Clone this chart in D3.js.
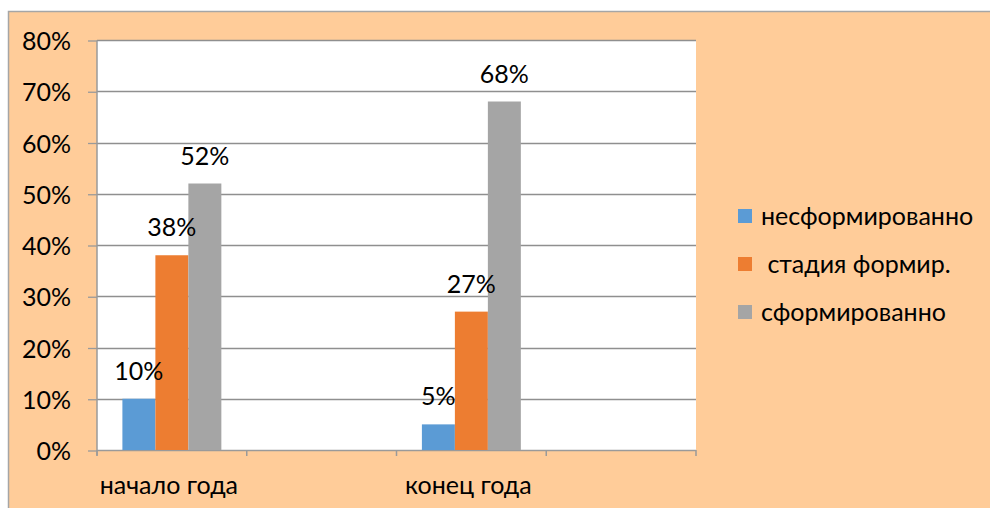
<!DOCTYPE html>
<html>
<head>
<meta charset="utf-8">
<script src="https://cdn.jsdelivr.net/npm/d3@7"></script>
<style>
  body { margin: 0; background: #fff; }
  text { font-family: Lato, "Open Sans", sans-serif; fill: #000; }
</style>
</head>
<body>
<div id="chart"></div>
<script>
// data
var categories = ["начало года", "", "конец года", ""];
var seriesNames = ["несформированно", " стадия формир.", "сформированно"];
var seriesColors = ["#5b9bd5", "#ed7d31", "#a5a5a5"];
var unformed = [0.10, null, 0.05, null];
var forming = [0.38, null, 0.27, null];
var formed = [0.52, null, 0.68, null];
var yTicks = [0, 0.1, 0.2, 0.3, 0.4, 0.5, 0.6, 0.7, 0.8];

var seriesValues = [unformed, forming, formed];

var svg = d3.select("#chart")
            .append("svg")
            .attr("width", 990)
            .attr("height", 508);

var plot = {left: 97, right: 696, top: 40, bottom: 450};
var fontSize = "25px";

// chart area background
svg.append("rect")
   .attr("x", 8.5).attr("y", 11.5)
   .attr("width", 1000).attr("height", 520)
   .style("fill", "#ffcc99")
   .style("stroke", "#a6a6a6")
   .style("stroke-width", 1.5);

svg.append("rect")
   .attr("x", plot.left).attr("y", plot.top)
   .attr("width", plot.right - plot.left)
   .attr("height", plot.bottom - plot.top)
   .style("fill", "#fff");

var y = d3.scaleLinear().domain([0, 0.8]).range([plot.bottom, plot.top]);
var x0 = d3.scaleBand().domain(d3.range(categories.length))
           .range([plot.left, plot.right]).padding(0);
var x1 = d3.scaleBand().domain(d3.range(seriesNames.length))
           .range([0, x0.bandwidth()]).paddingInner(0).paddingOuter(0.77);

// gridlines
svg.append("g")
   .selectAll("line")
   .data(yTicks.slice(1))
   .enter()
   .append("line")
   .attr("x1", plot.left).attr("x2", plot.right)
   .attr("y1", function(d) { return Math.round(y(d)) + 0.5; })
   .attr("y2", function(d) { return Math.round(y(d)) + 0.5; })
   .style("stroke", "#8f8f8f")
   .style("stroke-width", 1.3);

// y axis
var yAxis = d3.axisLeft(y)
              .tickValues(yTicks)
              .tickFormat(d3.format(".0%"))
              .tickSize(9)
              .tickPadding(17);
var gy = svg.append("g")
            .attr("transform", "translate(" + plot.left + ",0.5)")
            .call(yAxis);
gy.select(".domain").remove();
gy.selectAll(".tick line").style("stroke", "#9a9a9a").style("stroke-width", 1.3);
gy.selectAll(".tick text").style("font-size", fontSize).attr("dy", "0.36em");
gy.append("line")
  .attr("x1", 0).attr("x2", 0)
  .attr("y1", plot.top).attr("y2", plot.bottom + 5)
  .style("stroke", "#9a9a9a").style("stroke-width", 1.5);

// x axis
var gx = svg.append("g");
gx.append("line")
  .attr("x1", plot.left).attr("x2", plot.right)
  .attr("y1", plot.bottom + 0.5).attr("y2", plot.bottom + 0.5)
  .style("stroke", "#9a9a9a").style("stroke-width", 1.5);
gx.selectAll(".xtick")
  .data(d3.range(categories.length + 1))
  .enter()
  .append("line")
  .attr("class", "xtick")
  .attr("x1", function(i) { return plot.left + i * x0.step(); })
  .attr("x2", function(i) { return plot.left + i * x0.step(); })
  .attr("y1", plot.bottom).attr("y2", plot.bottom + 6)
  .style("stroke", "#9a9a9a").style("stroke-width", 1.5);
gx.selectAll(".xlabel")
  .data(categories)
  .enter()
  .append("text")
  .attr("class", "xlabel")
  .attr("x", function(d, i) { return x0(i) + x0.bandwidth() / 2 - 3; })
  .attr("y", 494)
  .attr("text-anchor", "middle")
  .style("font-size", fontSize)
  .text(function(d) { return d; });

// bars
var barData = [];
seriesValues.forEach(function(vals, s) {
  vals.forEach(function(v, c) {
    if (v !== null) barData.push({s: s, c: c, v: v});
  });
});

svg.append("g")
   .selectAll("rect")
   .data(barData)
   .enter()
   .append("rect")
   .attr("x", function(d) { return x0(d.c) + x1(d.s); })
   .attr("y", function(d) { return y(d.v); })
   .attr("width", x1.bandwidth())
   .attr("height", function(d) { return plot.bottom - y(d.v); })
   .style("fill", function(d) { return seriesColors[d.s]; });

// data labels
svg.append("g")
   .selectAll("text")
   .data(barData)
   .enter()
   .append("text")
   .attr("x", function(d) { return x0(d.c) + x1(d.s) + x1.bandwidth() / 2; })
   .attr("y", function(d) { return y(d.v) - 19; })
   .attr("text-anchor", "middle")
   .style("font-size", fontSize)
   .text(function(d) { return Math.round(d.v * 100) + "%"; });

// legend
var legend = svg.append("g")
                .selectAll("g")
                .data(seriesNames)
                .enter()
                .append("g")
                .attr("transform", function(d, i) { return "translate(738," + (216 + i * 48) + ")"; });
legend.append("rect")
      .attr("x", 0).attr("y", -7)
      .attr("width", 14).attr("height", 14)
      .style("fill", function(d, i) { return seriesColors[i]; });
legend.append("text")
      .attr("x", 23).attr("y", 0)
      .attr("dy", "0.35em")
      .style("font-size", fontSize)
      .style("white-space", "pre")
      .attr("xml:space", "preserve")
      .text(function(d) { return d; });
</script>
</body>
</html>
